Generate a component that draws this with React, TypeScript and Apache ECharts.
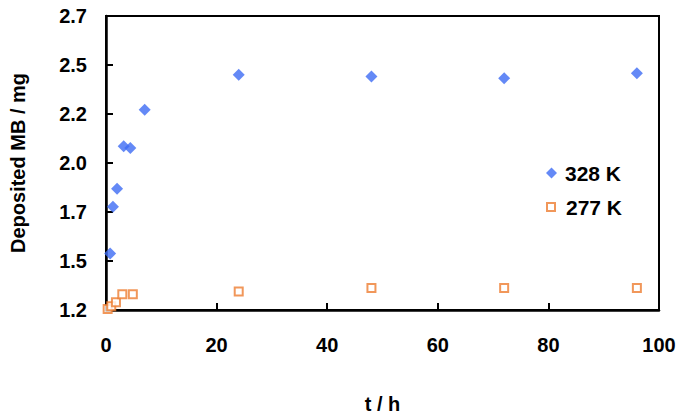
import React, { useEffect, useRef } from "react";
import * as echarts from "echarts";

const hours328 = [0.75, 1.25, 2, 3.2, 4.4, 7, 24, 48, 72, 96];
const mb328 = [1.488, 1.727, 1.819, 2.035, 2.027, 2.222, 2.4, 2.391, 2.383, 2.408];
const hours277 = [0.3, 0.95, 1.8, 2.95, 4.85, 24, 48, 72, 96];
const mb277 = [1.205, 1.219, 1.24, 1.28, 1.28, 1.295, 1.312, 1.312, 1.312];
const yTickLabels = ["1.2", "1.5", "1.7", "2.0", "2.2", "2.5", "2.7"];
const seriesNames = ["328 K", "277 K"];

const FONT = "'Liberation Sans', Arial, sans-serif";

export default function App() {
  const ref = useRef<HTMLDivElement>(null);
  useEffect(() => {
    if (!ref.current) return;
    const chart = echarts.init(ref.current, undefined, { renderer: "svg" });
    const blue = "#3D6BF4";
    const orange = "#ED7D31";
    const legendText = { fontFamily: FONT, fontSize: 21, fontWeight: "bold", color: "#000", lineHeight: 22 };
    chart.setOption({
      animation: false,
      backgroundColor: "#ffffff",
      grid: {
        left: 104,
        right: 26,
        top: 16,
        bottom: 108,
        show: true,
        borderColor: "#000",
        borderWidth: 2,
      },
      legend: [
        {
          orient: "vertical",
          left: 546,
          top: 162,
          padding: 0,
          itemWidth: 11,
          itemHeight: 11,
          textStyle: { ...legendText, padding: [0, 0, 0, 3] },
          data: [{ name: seriesNames[0], icon: "diamond" }],
        },
        {
          orient: "vertical",
          left: 546,
          top: 196,
          padding: 0,
          itemWidth: 8,
          itemHeight: 8,
          textStyle: { ...legendText, padding: [0, 0, 0, 6] },
          data: [{ name: seriesNames[1], icon: "emptyRect" }],
        },
      ],
      xAxis: {
        type: "value",
        min: 0,
        max: 100,
        interval: 20,
        name: "t / h",
        nameLocation: "middle",
        nameGap: 84,
        nameTextStyle: { fontFamily: FONT, fontSize: 20, fontWeight: "bold", color: "#000" },
        axisLine: { show: true, lineStyle: { color: "#000", width: 2.5 } },
        axisTick: { show: true, inside: true, length: 7, lineStyle: { color: "#000", width: 2 } },
        axisLabel: { fontFamily: FONT, fontSize: 20, fontWeight: "bold", color: "#000", margin: 25 },
        splitLine: { show: false },
      },
      yAxis: {
        type: "value",
        min: 1.2,
        max: 2.7,
        interval: 0.25,
        name: "Deposited MB / mg",
        nameLocation: "middle",
        nameGap: 78,
        nameTextStyle: { fontFamily: FONT, fontSize: 20, fontWeight: "bold", color: "#000" },
        axisLine: { show: true, lineStyle: { color: "#000", width: 2.5 } },
        axisTick: { show: true, inside: true, length: 7, lineStyle: { color: "#000", width: 2 } },
        axisLabel: {
          fontFamily: FONT,
          fontSize: 20,
          fontWeight: "bold",
          color: "#000",
          margin: 19,
          formatter: (v: number) => yTickLabels[Math.round((v - 1.2) / 0.25)] ?? "",
        },
        splitLine: { show: false },
      },
      series: [
        {
          name: seriesNames[0],
          type: "scatter",
          symbol: "diamond",
          symbolSize: 12,
          itemStyle: { color: blue },
          data: hours328.map((h, i) => [h, mb328[i]]),
        },
        {
          name: seriesNames[1],
          type: "scatter",
          symbol: "emptyRect",
          symbolSize: 8,
          itemStyle: { color: orange, borderColor: orange, borderWidth: 1.5 },
          data: hours277.map((h, i) => [h, mb277[i]]),
        },
      ],
    });
    return () => chart.dispose();
  }, []);
  return <div ref={ref} style={{ width: 685, height: 419, marginLeft: -8, marginTop: -8 }} />;
}
